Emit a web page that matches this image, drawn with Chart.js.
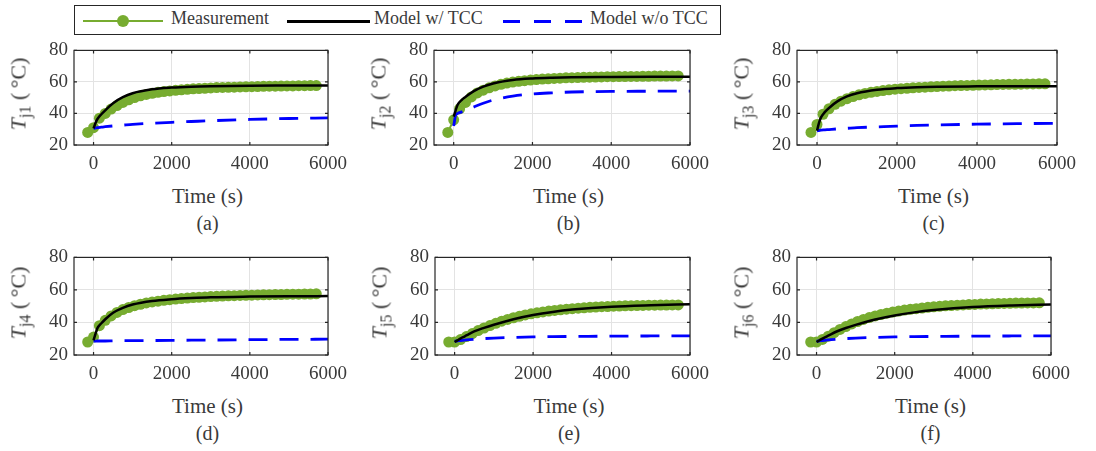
<!DOCTYPE html>
<html>
<head>
<meta charset="utf-8">
<script src="https://cdn.jsdelivr.net/npm/chart.js@4"></script>
<style>
body { margin: 0; background: #fff; width: 1096px; height: 451px; position: relative; overflow: hidden;
       font-family: 'Liberation Serif', 'Times New Roman', serif; color: #3a3a3a; font-weight: 400; }
canvas { position: absolute; }
.txt { position: absolute; white-space: nowrap; transform: translate(-50%, -50%); }
.ylab { position: absolute; white-space: nowrap; transform: translate(-50%, -50%) rotate(-90deg); font-size: 22px; }
.ylab sub { font-size: 16px; vertical-align: -5px; }
#legend { position: absolute; left: 74px; top: 5px; width: 645px; height: 28px; border: 1px solid #262626; background: #fff; }
</style>
</head>
<body>
<div id="legend"></div>
<script>
// tick labels
var xTicks = [0, 2000, 4000, 6000];
var yTicks = [20, 40, 60, 80];

// measurement sample times (s)
var measTime = [-150, 0, 150, 300, 450, 600, 750, 900, 1050, 1200, 1350, 1500, 1650, 1800, 1950, 2100, 2250, 2400, 2550, 2700,
    2850, 3000, 3150, 3300, 3450, 3600, 3750, 3900, 4050, 4200, 4350, 4500, 4650, 4800, 4950, 5100, 5250, 5400, 5550, 5700];
// model sample times (s)
var modelTime = [0, 50, 100, 200, 300, 500, 750, 1000, 1500, 2000, 2500, 3000, 4000, 5000, 6000];

var measJ1 = [28, 31, 37, 40, 42.8, 45, 47, 48.7, 50.1, 51.2, 52.1, 52.8, 53.4, 53.9, 54.3, 54.7, 55.0, 55.3, 55.6, 55.8,
    56.0, 56.2, 56.4, 56.5, 56.6, 56.7, 56.8, 56.9, 57.0, 57.1, 57.2, 57.3, 57.3, 57.4, 57.5, 57.5, 57.6, 57.6, 57.7, 57.7];
var tccJ1 = [30.5, 34, 36.5, 39.5, 42, 46.5, 50.3, 52.8, 55.3, 56.4, 57, 57.3, 57.6, 57.7, 57.8];
var noTccJ1 = [30.5, 30.8, 31, 31.3, 31.6, 32.1, 32.6, 33.1, 33.8, 34.4, 34.9, 35.4, 36.2, 36.8, 37.2];

var measJ2 = [28, 36, 43, 47, 50.5, 53, 54.8, 56.3, 57.5, 58.5, 59.3, 59.9, 60.4, 60.8, 61.2, 61.5, 61.8, 62.0, 62.2, 62.4,
    62.6, 62.7, 62.8, 62.9, 63.0, 63.1, 63.2, 63.3, 63.3, 63.4, 63.4, 63.5, 63.5, 63.6, 63.6, 63.7, 63.7, 63.7, 63.8, 63.8];
var tccJ2 = [38, 42, 45.5, 48.5, 50.5, 54, 57, 59, 61.2, 62.2, 62.7, 63, 63.2, 63.3, 63.3];
var noTccJ2 = [32, 39, 40, 41, 42, 44, 46.5, 48.5, 51, 52.4, 53.1, 53.6, 54, 54.1, 54.2];

var measJ3 = [28, 33, 39.5, 43, 45.8, 47.8, 49.4, 50.7, 51.8, 52.7, 53.4, 54.0, 54.5, 55.0, 55.4, 55.7, 56.0, 56.3, 56.5, 56.7,
    56.9, 57.1, 57.3, 57.4, 57.6, 57.7, 57.8, 57.9, 58.0, 58.1, 58.2, 58.3, 58.4, 58.5, 58.5, 58.6, 58.7, 58.7, 58.8, 58.8];
var tccJ3 = [29, 34, 37.5, 41, 43.5, 47.5, 50.8, 52.8, 55, 56.1, 56.7, 57, 57.2, 57.3, 57.3];
var noTccJ3 = [29, 29.2, 29.4, 29.6, 29.8, 30.2, 30.6, 31, 31.5, 32, 32.4, 32.7, 33.2, 33.5, 33.8];

var measJ4 = [28, 31, 38, 41.3, 44, 46.2, 47.9, 49.2, 50.3, 51.2, 52.0, 52.6, 53.1, 53.6, 54.0, 54.4, 54.7, 55.0, 55.3, 55.5,
    55.7, 55.9, 56.1, 56.2, 56.4, 56.5, 56.6, 56.7, 56.8, 56.9, 57.0, 57.1, 57.2, 57.2, 57.3, 57.4, 57.4, 57.5, 57.5, 57.6];
var tccJ4 = [29, 33, 36.5, 39.5, 42, 46, 49, 51, 53.2, 54.3, 55, 55.5, 55.9, 56.1, 56.2];
var noTccJ4 = [28.5, 28.5, 28.6, 28.6, 28.6, 28.7, 28.8, 28.8, 28.9, 29, 29.1, 29.2, 29.4, 29.6, 29.7];

var measJ5 = [28, 28, 29.5, 31.3, 33.2, 35, 36.6, 38.1, 39.5, 40.8, 41.9, 42.9, 43.8, 44.6, 45.3, 45.9, 46.5, 47.0, 47.4, 47.8,
    48.2, 48.5, 48.8, 49.0, 49.3, 49.5, 49.7, 49.8, 50.0, 50.1, 50.2, 50.3, 50.4, 50.5, 50.6, 50.6, 50.7, 50.7, 50.8, 50.8];
var tccJ5 = [28, 28.7, 29.4, 30.8, 32, 34.5, 36.7, 38.6, 42, 44.6, 46.5, 47.9, 49.7, 50.6, 51.2];
var noTccJ5 = [28.5, 28.6, 28.8, 29, 29.3, 29.7, 30.1, 30.4, 30.8, 31.1, 31.3, 31.4, 31.6, 31.7, 31.8];

var measJ6 = [28, 28, 29.6, 31.6, 33.7, 35.7, 37.5, 39.1, 40.6, 41.9, 43.0, 44.0, 44.9, 45.7, 46.4, 47.0, 47.6, 48.1, 48.5, 48.9,
    49.3, 49.6, 49.9, 50.2, 50.4, 50.6, 50.8, 51.0, 51.1, 51.3, 51.4, 51.5, 51.6, 51.7, 51.8, 51.9, 51.9, 52.0, 52.0, 52.1];
var tccJ6 = [28, 28.7, 29.4, 30.7, 31.9, 34.3, 36.6, 38.5, 41.8, 44.3, 46.2, 47.6, 49.5, 50.5, 51.1];
var noTccJ6 = [28.5, 28.6, 28.8, 29, 29.3, 29.7, 30.1, 30.4, 30.8, 31.1, 31.3, 31.4, 31.6, 31.7, 31.8];

var GREEN = '#77AC30', AXIS = '#262626', TXT = '#3a3a3a';
var FONT = "'Liberation Serif', 'Times New Roman', serif";

// panel boxes: [left, top, right, bottom] of the plot area
var panels = [
    { id: 'a', n: 1, box: [74, 43, 341, 145], meas: measJ1, tcc: tccJ1, notcc: noTccJ1 },
    { id: 'b', n: 2, box: [434, 43, 703, 145], meas: measJ2, tcc: tccJ2, notcc: noTccJ2 },
    { id: 'c', n: 3, box: [797, 43, 1070, 145], meas: measJ3, tcc: tccJ3, notcc: noTccJ3 },
    { id: 'd', n: 4, box: [74, 250, 341, 355], meas: measJ4, tcc: tccJ4, notcc: noTccJ4 },
    { id: 'e', n: 5, box: [435, 250, 703, 355], meas: measJ5, tcc: tccJ5, notcc: noTccJ5 },
    { id: 'f', n: 6, box: [797, 250, 1064, 355], meas: measJ6, tcc: tccJ6, notcc: noTccJ6 }
];

function pairs(xs, ys) {
    return xs.map(function(x, i) { return { x: x, y: ys[i] }; });
}

// axes box plus small inward ticks, matlab style
var boxPlugin = {
    id: 'box',
    afterDraw: function(chart) {
        var a = chart.chartArea, c = chart.ctx;
        var sx = chart.scales.x, sy = chart.scales.y;
        c.save();
        c.strokeStyle = AXIS;
        c.lineWidth = 1.2;
        c.strokeRect(a.left, a.top, a.right - a.left, a.bottom - a.top);
        c.beginPath();
        xTicks.forEach(function(v) {
            var px = sx.getPixelForValue(v);
            c.moveTo(px, a.bottom); c.lineTo(px, a.bottom - 3);
            c.moveTo(px, a.top); c.lineTo(px, a.top + 3);
        });
        yTicks.forEach(function(v) {
            var py = sy.getPixelForValue(v);
            c.moveTo(a.left, py); c.lineTo(a.left + 3, py);
            c.moveTo(a.right, py); c.lineTo(a.right - 3, py);
        });
        c.stroke();
        c.restore();
    }
};

function addText(html, x, y, cls, size) {
    var d = document.createElement('div');
    d.className = cls;
    d.innerHTML = html;
    d.style.left = x + 'px';
    d.style.top = y + 'px';
    if (size) d.style.fontSize = size + 'px';
    document.body.appendChild(d);
}

panels.forEach(function(p) {
    var L = p.box[0], T = p.box[1], R = p.box[2], B = p.box[3];
    var padL = 44, padT = 10, padR = 14, padB = 34;
    var cv = document.createElement('canvas');
    cv.width = R - L + padL + padR;
    cv.height = B - T + padT + padB;
    cv.style.left = (L - padL) + 'px';
    cv.style.top = (T - padT) + 'px';
    document.body.appendChild(cv);

    new Chart(cv.getContext('2d'), {
        type: 'scatter',
        data: {
            datasets: [{
                label: 'Measurement',
                data: pairs(measTime, p.meas),
                showLine: true,
                borderColor: GREEN,
                backgroundColor: GREEN,
                borderWidth: 2,
                pointRadius: 5.5,
                pointBorderWidth: 0,
                order: 3
            }, {
                label: 'Model w/o TCC',
                data: pairs(modelTime, p.notcc),
                showLine: true,
                borderColor: '#0000ff',
                borderWidth: 2.8,
                borderDash: [19, 12],
                pointRadius: 0,
                cubicInterpolationMode: 'monotone',
                order: 2
            }, {
                label: 'Model w/ TCC',
                data: pairs(modelTime, p.tcc),
                showLine: true,
                borderColor: '#000000',
                borderWidth: 2.5,
                pointRadius: 0,
                cubicInterpolationMode: 'monotone',
                order: 1
            }]
        },
        options: {
            responsive: false,
            animation: false,
            events: [],
            layout: { padding: { top: padT, right: padR, left: 0, bottom: 0 } },
            plugins: { legend: { display: false }, tooltip: { enabled: false } },
            scales: {
                x: {
                    type: 'linear', min: -500, max: 6000,
                    afterBuildTicks: function(s) { s.ticks = xTicks.map(function(v) { return { value: v }; }); },
                    afterFit: function(s) { s.height = padB; },
                    grid: { color: '#e3e3e3', lineWidth: 1, drawTicks: false },
                    border: { display: false },
                    ticks: { color: TXT, padding: 8, maxRotation: 0, font: { family: FONT, size: 19 },
                        callback: function(v) { return String(v); } }
                },
                y: {
                    type: 'linear', min: 20, max: 80,
                    afterBuildTicks: function(s) { s.ticks = yTicks.map(function(v) { return { value: v }; }); },
                    afterFit: function(s) { s.width = padL; },
                    grid: { color: '#e3e3e3', lineWidth: 1, drawTicks: false },
                    border: { display: false },
                    ticks: { color: TXT, padding: 6, font: { family: FONT, size: 19 },
                        callback: function(v) { return String(v); } }
                }
            }
        },
        plugins: [boxPlugin]
    });

    var cx = (L + R) / 2;
    addText('<i>T</i><sub>j' + p.n + '</sub> (&#8201;°C)', L - 54, (T + B) / 2, 'ylab');
    addText('Time (s)', cx, B + 51, 'txt', 21);
    addText('(' + p.id + ')', cx, B + 78, 'txt', 20);
});

// legend
var lg = document.getElementById('legend');
function lgItem(html, x, y, css) {
    var d = document.createElement('div');
    d.innerHTML = html;
    d.setAttribute('style', 'position:absolute;white-space:nowrap;left:' + (x - 75) + 'px;top:' + (y - 6) + 'px;' + (css || ''));
    lg.appendChild(d);
}
lgItem('', 83, 20, 'width:80px;height:2px;background:' + GREEN + ';');
lgItem('', 117, 15, 'width:12px;height:12px;border-radius:50%;background:' + GREEN + ';');
lgItem('Measurement', 171, 8, 'font-size:18px;');
lgItem('', 287, 20, 'width:83px;height:3px;background:#000;');
lgItem('Model w/ TCC', 374, 8, 'font-size:18px;');
lgItem('', 503, 20, 'width:80px;height:3px;background:repeating-linear-gradient(90deg, #0000ff 0 17px, transparent 17px 31px);');
lgItem('Model w/o TCC', 590, 8, 'font-size:18px;');
</script>
</body>
</html>
